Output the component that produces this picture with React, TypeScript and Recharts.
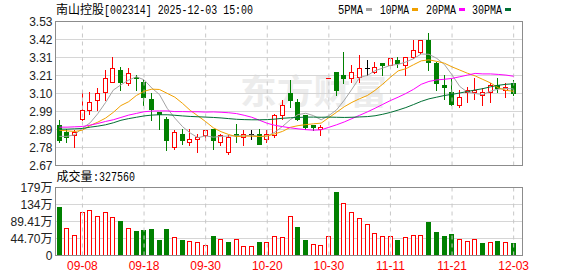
import React from "react"
import { ComposedChart, Bar, Line, XAxis, YAxis, CartesianGrid, ReferenceLine } from "recharts"

// 南山控股 daily K-line, 2025-09-03 .. 2025-12-03
const DATES = [
  "09-03", "09-04", "09-05", "09-08", "09-09", "09-10", "09-11", "09-12", "09-15", "09-16",
  "09-17", "09-18", "09-19", "09-22", "09-23", "09-24", "09-25", "09-26", "09-29", "09-30",
  "10-09", "10-10", "10-13", "10-14", "10-15", "10-16", "10-17", "10-20", "10-21", "10-22",
  "10-23", "10-24", "10-27", "10-28", "10-29", "10-30", "10-31", "11-03", "11-04", "11-05",
  "11-06", "11-07", "11-10", "11-11", "11-12", "11-13", "11-14", "11-17", "11-18", "11-19",
  "11-20", "11-21", "11-24", "11-25", "11-26", "11-27", "11-28", "12-01", "12-02", "12-03",
]

const OPEN = [
  2.91, 2.87, 2.85, 2.95, 3.0, 3.06, 3.11, 3.17, 3.24, 3.16,
  3.2, 3.17, 3.07, 2.99, 2.95, 2.78, 2.86, 2.81, 2.83, 2.85,
  2.89, 2.81, 2.75, 2.86, 2.84, 2.86, 2.86, 2.83, 2.85, 2.97,
  3.1, 3.05, 2.97, 2.91, 2.89, 3.19, 3.23, 3.21, 3.19, 3.2,
  3.25, 3.23, 3.28, 3.27, 3.3, 3.27, 3.32, 3.35, 3.42, 3.28,
  3.15, 3.11, 3.03, 3.11, 3.11, 3.09, 3.11, 3.15, 3.12, 3.16,
]
const HIGH = [
  2.94, 2.89, 2.88, 3.12, 3.11, 3.13, 3.24, 3.32, 3.26, 3.25,
  3.21, 3.18, 3.1, 2.99, 2.96, 2.88, 2.89, 2.89, 2.86, 2.88,
  2.89, 2.86, 2.85, 2.92, 2.88, 2.88, 2.89, 2.88, 2.98, 3.06,
  3.18, 3.07, 2.97, 2.91, 2.91, 3.19, 3.23, 3.35, 3.27, 3.33,
  3.3, 3.29, 3.28, 3.31, 3.32, 3.32, 3.42, 3.42, 3.46, 3.29,
  3.21, 3.19, 3.12, 3.14, 3.19, 3.13, 3.16, 3.19, 3.16, 3.18,
]
const LOW = [
  2.81, 2.81, 2.78, 2.94, 2.98, 3.0, 3.06, 3.17, 3.12, 3.15,
  3.12, 3.03, 2.94, 2.89, 2.76, 2.77, 2.8, 2.79, 2.75, 2.82,
  2.77, 2.79, 2.74, 2.81, 2.79, 2.83, 2.8, 2.81, 2.84, 2.95,
  3.02, 2.94, 2.89, 2.88, 2.85, 3.19, 3.09, 3.16, 3.17, 3.17,
  3.21, 3.22, 3.21, 3.27, 3.26, 3.21, 3.31, 3.34, 3.24, 3.12,
  3.07, 3.03, 3.02, 3.05, 3.07, 3.03, 3.05, 3.11, 3.08, 3.09,
]
const CLOSE = [
  2.82, 2.84, 2.87, 3.0, 3.05, 3.1, 3.19, 3.25, 3.17, 3.22,
  3.19, 3.08, 3.01, 2.98, 2.82, 2.87, 2.82, 2.83, 2.84, 2.88,
  2.82, 2.85, 2.84, 2.85, 2.86, 2.86, 2.8, 2.86, 2.97, 3.03,
  3.06, 2.95, 2.9, 2.9, 2.9, 3.19, 3.12, 3.19, 3.23, 3.25,
  3.25, 3.26, 3.27, 3.31, 3.28, 3.32, 3.36, 3.42, 3.29, 3.16,
  3.14, 3.04, 3.08, 3.12, 3.12, 3.11, 3.15, 3.13, 3.14, 3.1,
]

// volume, in 万 (10k shares)
const VOLUME = [
  126.5, 72.5, 55, 115, 119.6, 104.7, 115, 102, 91.6, 72.5,
  65.5, 68, 70.7, 41.9, 70.7, 49.7, 41.9, 39.3, 36.7, 28.8,
  52.4, 44.5, 36.7, 44.5, 26.2, 26.2, 36.7, 34.9, 52.4, 49.7,
  104.7, 75.9, 41.9, 30.5, 27.9, 51.5, 167.6, 138, 114.3, 98.6,
  83.8, 60.2, 51.5, 51.5, 41.9, 48.9, 55, 55, 87.3, 61,
  52.4, 55.8, 44.5, 37.5, 44.5, 32.2, 36.7, 39.3, 36.7, 32.756,
]

const MA5 = [
  2.844, 2.844, 2.854, 2.893, 2.925, 2.98, 3.046, 3.12, 3.152, 3.18,
  3.2, 3.182, 3.133, 3.094, 3.012, 2.953, 2.902, 2.864, 2.836, 2.847,
  2.839, 2.844, 2.846, 2.848, 2.846, 2.852, 2.843, 2.846, 2.869, 2.904,
  2.944, 2.974, 2.982, 2.968, 2.943, 2.968, 3.002, 3.06, 3.126, 3.196,
  3.208, 3.236, 3.252, 3.268, 3.274, 3.288, 3.308, 3.336, 3.334, 3.31,
  3.274, 3.211, 3.142, 3.108, 3.1, 3.094, 3.114, 3.126, 3.13, 3.127,
]
const MA10 = [
  2.881, 2.877, 2.873, 2.881, 2.909, 2.929, 2.953, 2.987, 3.028, 3.051,
  3.088, 3.113, 3.126, 3.124, 3.101, 3.078, 3.041, 2.999, 2.966, 2.932,
  2.895, 2.872, 2.855, 2.842, 2.846, 2.845, 2.843, 2.846, 2.859, 2.874,
  2.898, 2.908, 2.914, 2.919, 2.923, 2.956, 2.988, 3.021, 3.047, 3.069,
  3.088, 3.119, 3.156, 3.197, 3.235, 3.248, 3.272, 3.295, 3.301, 3.292,
  3.281, 3.259, 3.24, 3.221, 3.205, 3.184, 3.163, 3.134, 3.119, 3.113,
]
const MA20 = [
  2.899, 2.899, 2.901, 2.903, 2.911, 2.921, 2.933, 2.943, 2.957, 2.971,
  2.981, 2.991, 2.995, 2.996, 2.996, 2.992, 2.992, 2.991, 2.991, 2.989,
  2.99, 2.988, 2.985, 2.98, 2.97, 2.958, 2.94, 2.922, 2.91, 2.902,
  2.895, 2.889, 2.884, 2.881, 2.883, 2.898, 2.913, 2.93, 2.95, 2.97,
  2.99, 3.012, 3.035, 3.058, 3.078, 3.1, 3.125, 3.155, 3.172, 3.181,
  3.185, 3.19, 3.2, 3.21, 3.22, 3.217, 3.217, 3.214, 3.21, 3.203,
]
const MA30 = [
  2.887, 2.887, 2.889, 2.891, 2.899, 2.905, 2.913, 2.925, 2.94, 2.95,
  2.958, 2.966, 2.971, 2.973, 2.973, 2.97, 2.966, 2.963, 2.961, 2.959,
  2.957, 2.954, 2.95, 2.946, 2.944, 2.943, 2.943, 2.944, 2.947, 2.952,
  2.955, 2.957, 2.959, 2.959, 2.958, 2.959, 2.958, 2.957, 2.958, 2.96,
  2.962, 2.967, 2.976, 2.987, 3.001, 3.016, 3.034, 3.053, 3.068, 3.078,
  3.088, 3.095, 3.103, 3.112, 3.121, 3.129, 3.14, 3.149, 3.155, 3.158,
]

const PRICE_TICKS = [2.67, 2.7775, 2.885, 2.9925, 3.1, 3.2075, 3.315, 3.4225, 3.53]
const PRICE_LABELS = ["2.67", "2.78", "2.89", "2.99", "3.10", "3.21", "3.31", "3.42", "3.53"]
const VOL_TICKS = [0, 44.705, 89.41, 134.115, 178.82]
const VOL_LABELS = ["0", "44.70万", "89.41万", "134万", "179万"]
const DATE_TICKS = ["09-08", "09-18", "09-30", "10-20", "10-30", "11-11", "11-21", "12-03"]

const TITLE_NAME = "南山控股"
const TITLE_REST = "[002314] 2025-12-03 15:00"
const LAST_VOLUME = "327560"

const RED = "#ff0000"
const GREEN = "#008000"
const FRAME = "#8c8c8c"
const GRID = "#d6d6d6"
const DASH = "#c8c8c8"

const MA_LINES = [
  { key: "ma5", name: "5PMA", color: "#a3a3a3", x: 338, w: 25 },
  { key: "ma10", name: "10PMA", color: "#f0a000", x: 380, w: 29 },
  { key: "ma20", name: "20PMA", color: "#ff00ff", x: 426, w: 30 },
  { key: "ma30", name: "30PMA", color: "#006f34", x: 472, w: 30 },
]

const rows = DATES.map((date, i) => ({
  date,
  open: OPEN[i],
  high: HIGH[i],
  low: LOW[i],
  close: CLOSE[i],
  prevClose: i > 0 ? CLOSE[i - 1] : null,
  volume: VOLUME[i],
  ma5: MA5[i],
  ma10: MA10[i],
  ma20: MA20[i],
  ma30: MA30[i],
}))

function candleColor(d: any) {
  if (d.close > d.open) return RED
  if (d.close < d.open) return GREEN
  if (d.prevClose == null) return "#000"
  if (d.close > d.prevClose) return RED
  if (d.close < d.prevClose) return GREEN
  return "#000"
}

function Candle(props: any) {
  const { x, y, width, height, payload: d } = props
  const color = candleColor(d)
  const left = Math.round(x + width / 2 - 2.5)
  const cx = left + 2.5
  const span = d.high - d.low
  const k = span > 0 ? height / span : 0
  const py = (v: number) => Math.round(y + (d.high - v) * k)
  const hy = py(d.high)
  const ly = py(d.low)
  const top = py(Math.max(d.open, d.close))
  const bottom = py(Math.min(d.open, d.close))

  if (d.close > d.open) {
    return (
      <g>
        <line x1={cx} x2={cx} y1={hy} y2={top} stroke={color} />
        <line x1={cx} x2={cx} y1={bottom} y2={ly + 1} stroke={color} />
        <rect x={left + 0.5} y={top + 0.5} width={4} height={Math.max(bottom - top, 1)} fill="#fff" stroke={color} />
      </g>
    )
  }
  if (d.close < d.open) {
    return (
      <g>
        <line x1={cx} x2={cx} y1={hy} y2={ly + 1} stroke={color} />
        <rect x={left} y={top} width={5} height={Math.max(bottom - top + 1, 1)} fill={color} />
      </g>
    )
  }
  return (
    <g>
      {ly > hy && <line x1={cx} x2={cx} y1={hy} y2={ly + 1} stroke={color} />}
      <line x1={left} x2={left + 5} y1={top + 0.5} y2={top + 0.5} stroke={color} />
    </g>
  )
}

function VolumeBar(props: any) {
  const { x, y, width, height, payload: d } = props
  const up = d.prevClose == null ? d.close >= d.open : d.close >= d.prevClose
  const left = Math.round(x + width / 2 - 2.5)
  const top = Math.round(y)
  const bottom = Math.round(y + height)
  if (up) {
    return (
      <rect x={left + 0.5} y={top + 0.5} width={4} height={Math.max(bottom - top - 1, 0)} fill="#fff" stroke={RED} />
    )
  }
  return <rect x={left} y={top} width={5} height={bottom - top} fill={GREEN} />
}

const axisFont = { fontSize: 12, fontFamily: "'Liberation Sans', Arial, 'Noto Sans CJK SC', sans-serif", fill: "#222" }
const monoFont = "'Liberation Mono', 'DejaVu Sans Mono', monospace"
const cjkFont = "'Noto Sans CJK SC', sans-serif"

export default function App() {
  return (
    <div style={{ position: "absolute", left: 0, top: 0, width: 578, height: 276, background: "#fff", overflow: "hidden" }}>
      <svg width={578} height={276} style={{ position: "absolute", left: 0, top: 0 }}>
        <text x={240} y={104} fontSize={34} fontWeight="bold" fontFamily={cjkFont} fill="#ececec" textLength={147} lengthAdjust="spacingAndGlyphs">
          东方财富
        </text>
      </svg>

      <div style={{ position: "absolute", left: 0, top: 0 }}>
        <ComposedChart width={578} height={180} data={rows} margin={{ top: 21.5, right: 55.5, bottom: 14.5, left: 0 }}>
          <CartesianGrid horizontal vertical={false} stroke={GRID} />
          {DATE_TICKS.map((t) => (
            <ReferenceLine key={t} x={t} stroke={DASH} strokeDasharray="4 4" />
          ))}
          <XAxis dataKey="date" type="category" hide padding={{ left: 0, right: 5 }} />
          <YAxis
            domain={[2.67, 3.53]}
            ticks={PRICE_TICKS}
            interval={0}
            allowDataOverflow
            width={55.5}
            axisLine={false}
            tickLine={false}
            tickSize={0}
            tickMargin={3}
            tick={axisFont}
            tickFormatter={(v: number) => PRICE_LABELS[PRICE_TICKS.indexOf(v)] ?? String(v)}
          />
          <Bar dataKey={(d: any) => [d.low, d.high]} barSize={5} shape={<Candle />} isAnimationActive={false} />
          {MA_LINES.map((m) => (
            <Line
              key={m.key}
              type="linear"
              dataKey={m.key}
              stroke={m.color}
              strokeWidth={1}
              dot={false}
              activeDot={false}
              isAnimationActive={false}
            />
          ))}
        </ComposedChart>
      </div>

      <div style={{ position: "absolute", left: 0, top: 0 }}>
        <ComposedChart width={578} height={276} data={rows} margin={{ top: 187.5, right: 55.5, bottom: 0, left: 0 }}>
          <CartesianGrid horizontal vertical={false} stroke={GRID} />
          {DATE_TICKS.map((t) => (
            <ReferenceLine key={t} x={t} stroke={DASH} strokeDasharray="4 4" />
          ))}
          <XAxis
            dataKey="date"
            type="category"
            ticks={DATE_TICKS}
            interval={0}
            height={20.5}
            padding={{ left: 0, right: 5 }}
            axisLine={false}
            tickLine={false}
            tickSize={0}
            tickMargin={6}
            tick={{ ...axisFont, fill: RED }}
          />
          <YAxis
            domain={[0, 178.82]}
            ticks={VOL_TICKS}
            interval={0}
            allowDataOverflow
            width={55.5}
            axisLine={false}
            tickLine={false}
            tickSize={0}
            tickMargin={3}
            tick={axisFont}
            tickFormatter={(v: number) => VOL_LABELS[VOL_TICKS.indexOf(v)] ?? String(v)}
          />
          <Bar dataKey="volume" barSize={5} shape={<VolumeBar />} isAnimationActive={false} />
        </ComposedChart>
      </div>

      <svg width={578} height={276} style={{ position: "absolute", left: 0, top: 0, pointerEvents: "none" }}>
        <rect x={55.5} y={21.5} width={467} height={144} fill="none" stroke={FRAME} />
        <rect x={55.5} y={187.5} width={467} height={68} fill="none" stroke={FRAME} />

        <text x={56} y={14} fontSize={12} fontFamily={cjkFont} fill="#000">{TITLE_NAME}</text>
        <text x={104} y={14} fontSize={12} fontFamily={monoFont} fill="#000" textLength={149} lengthAdjust="spacingAndGlyphs">
          {TITLE_REST}
        </text>

        {MA_LINES.map((m) => (
          <g key={m.key}>
            <text x={m.x} y={13.5} fontSize={12} fontFamily={monoFont} fill="#000" textLength={m.w} lengthAdjust="spacingAndGlyphs">
              {m.name}
            </text>
            <rect x={m.x + m.w + 3} y={8} width={6} height={3} fill={m.color} />
          </g>
        ))}

        <text x={56.5} y={181} fontSize={12} fontFamily={cjkFont} fill="#000">成交量</text>
        <text x={93} y={181} fontSize={12} fontFamily={monoFont} fill="#000" textLength={42} lengthAdjust="spacingAndGlyphs">
          {":" + LAST_VOLUME}
        </text>
      </svg>
    </div>
  )
}
